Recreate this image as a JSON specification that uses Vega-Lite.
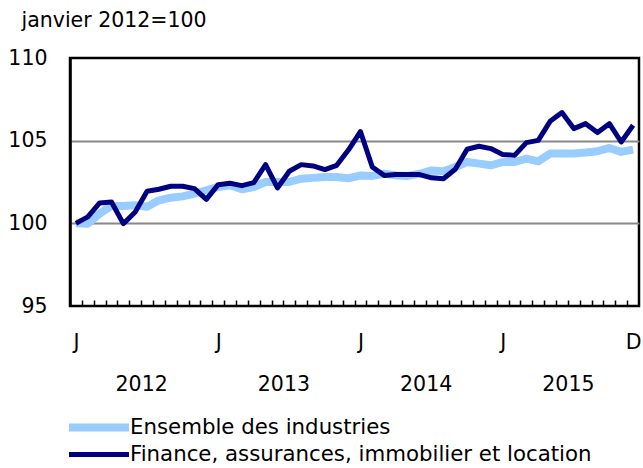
{
  "$schema": "https://vega.github.io/schema/vega-lite/v6.json",
  "width": 569,
  "height": 248,
  "autosize": {"type": "none"},
  "padding": {"left": 70, "top": 58, "right": 4, "bottom": 162},
  "background": "white",
  "config": {
    "font": "DejaVu Sans",
    "view": {"stroke": "black", "strokeWidth": 2.5},
    "axis": {"labelFont": "DejaVu Sans", "labelFontSize": 20.5, "labelColor": "black"}
  },
  "datasets": {
    "rows": [
      {"month": 0, "series": "Ensemble des industries", "value": 100.0},
      {"month": 1, "series": "Ensemble des industries", "value": 99.98},
      {"month": 2, "series": "Ensemble des industries", "value": 100.59},
      {"month": 3, "series": "Ensemble des industries", "value": 101.05},
      {"month": 4, "series": "Ensemble des industries", "value": 101.05},
      {"month": 5, "series": "Ensemble des industries", "value": 101.09},
      {"month": 6, "series": "Ensemble des industries", "value": 101.0},
      {"month": 7, "series": "Ensemble des industries", "value": 101.39},
      {"month": 8, "series": "Ensemble des industries", "value": 101.55},
      {"month": 9, "series": "Ensemble des industries", "value": 101.63},
      {"month": 10, "series": "Ensemble des industries", "value": 101.8},
      {"month": 11, "series": "Ensemble des industries", "value": 102.0},
      {"month": 12, "series": "Ensemble des industries", "value": 102.2},
      {"month": 13, "series": "Ensemble des industries", "value": 102.3},
      {"month": 14, "series": "Ensemble des industries", "value": 102.06},
      {"month": 15, "series": "Ensemble des industries", "value": 102.2},
      {"month": 16, "series": "Ensemble des industries", "value": 102.5},
      {"month": 17, "series": "Ensemble des industries", "value": 102.5},
      {"month": 18, "series": "Ensemble des industries", "value": 102.5},
      {"month": 19, "series": "Ensemble des industries", "value": 102.7},
      {"month": 20, "series": "Ensemble des industries", "value": 102.75},
      {"month": 21, "series": "Ensemble des industries", "value": 102.8},
      {"month": 22, "series": "Ensemble des industries", "value": 102.8},
      {"month": 23, "series": "Ensemble des industries", "value": 102.72},
      {"month": 24, "series": "Ensemble des industries", "value": 102.9},
      {"month": 25, "series": "Ensemble des industries", "value": 102.87},
      {"month": 26, "series": "Ensemble des industries", "value": 103.0},
      {"month": 27, "series": "Ensemble des industries", "value": 102.9},
      {"month": 28, "series": "Ensemble des industries", "value": 102.87},
      {"month": 29, "series": "Ensemble des industries", "value": 103.0},
      {"month": 30, "series": "Ensemble des industries", "value": 103.2},
      {"month": 31, "series": "Ensemble des industries", "value": 103.15},
      {"month": 32, "series": "Ensemble des industries", "value": 103.4},
      {"month": 33, "series": "Ensemble des industries", "value": 103.71},
      {"month": 34, "series": "Ensemble des industries", "value": 103.61},
      {"month": 35, "series": "Ensemble des industries", "value": 103.51},
      {"month": 36, "series": "Ensemble des industries", "value": 103.71},
      {"month": 37, "series": "Ensemble des industries", "value": 103.71},
      {"month": 38, "series": "Ensemble des industries", "value": 103.91},
      {"month": 39, "series": "Ensemble des industries", "value": 103.75},
      {"month": 40, "series": "Ensemble des industries", "value": 104.22},
      {"month": 41, "series": "Ensemble des industries", "value": 104.22},
      {"month": 42, "series": "Ensemble des industries", "value": 104.22},
      {"month": 43, "series": "Ensemble des industries", "value": 104.28},
      {"month": 44, "series": "Ensemble des industries", "value": 104.36},
      {"month": 45, "series": "Ensemble des industries", "value": 104.56},
      {"month": 46, "series": "Ensemble des industries", "value": 104.32},
      {"month": 47, "series": "Ensemble des industries", "value": 104.46},
      {"month": 0, "series": "Finance, assurances, immobilier et location", "value": 100.0},
      {"month": 1, "series": "Finance, assurances, immobilier et location", "value": 100.39},
      {"month": 2, "series": "Finance, assurances, immobilier et location", "value": 101.23},
      {"month": 3, "series": "Finance, assurances, immobilier et location", "value": 101.29},
      {"month": 4, "series": "Finance, assurances, immobilier et location", "value": 99.98},
      {"month": 5, "series": "Finance, assurances, immobilier et location", "value": 100.69},
      {"month": 6, "series": "Finance, assurances, immobilier et location", "value": 101.94},
      {"month": 7, "series": "Finance, assurances, immobilier et location", "value": 102.06},
      {"month": 8, "series": "Finance, assurances, immobilier et location", "value": 102.24},
      {"month": 9, "series": "Finance, assurances, immobilier et location", "value": 102.24},
      {"month": 10, "series": "Finance, assurances, immobilier et location", "value": 102.1},
      {"month": 11, "series": "Finance, assurances, immobilier et location", "value": 101.45},
      {"month": 12, "series": "Finance, assurances, immobilier et location", "value": 102.34},
      {"month": 13, "series": "Finance, assurances, immobilier et location", "value": 102.42},
      {"month": 14, "series": "Finance, assurances, immobilier et location", "value": 102.28},
      {"month": 15, "series": "Finance, assurances, immobilier et location", "value": 102.46},
      {"month": 16, "series": "Finance, assurances, immobilier et location", "value": 103.55},
      {"month": 17, "series": "Finance, assurances, immobilier et location", "value": 102.14},
      {"month": 18, "series": "Finance, assurances, immobilier et location", "value": 103.15},
      {"month": 19, "series": "Finance, assurances, immobilier et location", "value": 103.55},
      {"month": 20, "series": "Finance, assurances, immobilier et location", "value": 103.47},
      {"month": 21, "series": "Finance, assurances, immobilier et location", "value": 103.25},
      {"month": 22, "series": "Finance, assurances, immobilier et location", "value": 103.51},
      {"month": 23, "series": "Finance, assurances, immobilier et location", "value": 104.45},
      {"month": 24, "series": "Finance, assurances, immobilier et location", "value": 105.55},
      {"month": 25, "series": "Finance, assurances, immobilier et location", "value": 103.41},
      {"month": 26, "series": "Finance, assurances, immobilier et location", "value": 102.9},
      {"month": 27, "series": "Finance, assurances, immobilier et location", "value": 102.95},
      {"month": 28, "series": "Finance, assurances, immobilier et location", "value": 102.95},
      {"month": 29, "series": "Finance, assurances, immobilier et location", "value": 102.95},
      {"month": 30, "series": "Finance, assurances, immobilier et location", "value": 102.75},
      {"month": 31, "series": "Finance, assurances, immobilier et location", "value": 102.7},
      {"month": 32, "series": "Finance, assurances, immobilier et location", "value": 103.27},
      {"month": 33, "series": "Finance, assurances, immobilier et location", "value": 104.48},
      {"month": 34, "series": "Finance, assurances, immobilier et location", "value": 104.66},
      {"month": 35, "series": "Finance, assurances, immobilier et location", "value": 104.52},
      {"month": 36, "series": "Finance, assurances, immobilier et location", "value": 104.17},
      {"month": 37, "series": "Finance, assurances, immobilier et location", "value": 104.11},
      {"month": 38, "series": "Finance, assurances, immobilier et location", "value": 104.88},
      {"month": 39, "series": "Finance, assurances, immobilier et location", "value": 105.02},
      {"month": 40, "series": "Finance, assurances, immobilier et location", "value": 106.17},
      {"month": 41, "series": "Finance, assurances, immobilier et location", "value": 106.7},
      {"month": 42, "series": "Finance, assurances, immobilier et location", "value": 105.73},
      {"month": 43, "series": "Finance, assurances, immobilier et location", "value": 106.03},
      {"month": 44, "series": "Finance, assurances, immobilier et location", "value": 105.49},
      {"month": 45, "series": "Finance, assurances, immobilier et location", "value": 106.03},
      {"month": 46, "series": "Finance, assurances, immobilier et location", "value": 104.92},
      {"month": 47, "series": "Finance, assurances, immobilier et location", "value": 105.93}
    ]
  },
  "data": {"name": "rows"},
  "resolve": {"axis": {"x": "independent"}},
  "encoding": {
    "y": {
      "field": "value",
      "type": "quantitative",
      "scale": {"domain": [95, 110], "nice": false, "zero": false},
      "axis": {
        "values": [95, 100, 105, 110],
        "title": "janvier 2012=100",
        "titleAngle": 0,
        "titleAlign": "left",
        "titleBaseline": "alphabetic",
        "titleX": -49,
        "titleY": -31.5,
        "titleFont": "DejaVu Sans",
        "titleFontSize": 20.5,
        "titleFontWeight": "normal",
        "titleColor": "black",
        "ticks": false,
        "tickSize": 0,
        "labelPadding": 23,
        "domainColor": "black",
        "domainWidth": 2.5,
        "grid": true,
        "gridColor": {"condition": {"test": "datum.value == 100 || datum.value == 105", "value": "#888888"}, "value": "transparent"},
        "gridWidth": 2
      }
    }
  },
  "layer": [
    {
      "mark": {"type": "line", "strokeJoin": "round"},
      "encoding": {
        "x": {
          "field": "month",
          "type": "quantitative",
          "scale": {"domain": [-0.5, 47.5], "nice": false, "zero": false},
          "axis": {
            "orient": "bottom",
            "values": [0.5, 1.5, 2.5, 3.5, 4.5, 5.5, 6.5, 7.5, 8.5, 9.5, 10.5, 11.5, 12.5, 13.5, 14.5, 15.5, 16.5, 17.5, 18.5, 19.5, 20.5, 21.5, 22.5, 23.5, 24.5, 25.5, 26.5, 27.5, 28.5, 29.5, 30.5, 31.5, 32.5, 33.5, 34.5, 35.5, 36.5, 37.5, 38.5, 39.5, 40.5, 41.5, 42.5, 43.5, 44.5, 45.5, 46.5],
            "offset": -6,
            "tickSize": 6,
            "tickColor": "black",
            "tickWidth": 1.5,
            "labels": false,
            "domain": false,
            "grid": false,
            "title": null
          }
        },
        "color": {
          "field": "series",
          "type": "nominal",
          "scale": {"domain": ["Ensemble des industries", "Finance, assurances, immobilier et location"], "range": ["#99ccff", "#000080"]},
          "legend": {
            "orient": "none",
            "legendX": -5,
            "legendY": 356,
            "title": null,
            "direction": "vertical",
            "symbolType": "stroke",
            "symbolSize": 3600,
            "labelFont": "DejaVu Sans",
            "labelFontSize": 21.3,
            "labelColor": "black",
            "labelOffset": -3,
            "labelLimit": 0,
            "clipHeight": 27,
            "rowPadding": 0
          }
        },
        "strokeWidth": {
          "field": "series",
          "type": "ordinal",
          "scale": {"domain": ["Ensemble des industries", "Finance, assurances, immobilier et location"], "range": [8, 5]}
        }
      }
    },
    {
      "mark": {"type": "line", "opacity": 0},
      "encoding": {
        "detail": {"field": "series"},
        "x": {
          "field": "month",
          "type": "quantitative",
          "scale": {"domain": [-0.5, 47.5], "nice": false, "zero": false},
          "axis": {
            "orient": "bottom",
            "values": [0, 12, 24, 36, 47],
            "labelExpr": "datum.value == 47 ? 'D' : 'J'",
            "ticks": false,
            "domain": false,
            "grid": false,
            "labelPadding": 36,
            "labelBaseline": "middle",
            "labelFlush": false,
            "labelOverlap": false,
            "title": null
          }
        }
      }
    },
    {
      "mark": {"type": "line", "opacity": 0},
      "encoding": {
        "detail": {"field": "series"},
        "x": {
          "field": "month",
          "type": "quantitative",
          "scale": {"domain": [-0.5, 47.5], "nice": false, "zero": false},
          "axis": {
            "orient": "bottom",
            "values": [5.5, 17.5, 29.5, 41.5],
            "labelExpr": "'' + (2012 + floor(datum.value / 12))",
            "ticks": false,
            "domain": false,
            "grid": false,
            "labelPadding": 78,
            "labelBaseline": "middle",
            "labelFlush": false,
            "labelOverlap": false,
            "title": null
          }
        }
      }
    }
  ]
}
